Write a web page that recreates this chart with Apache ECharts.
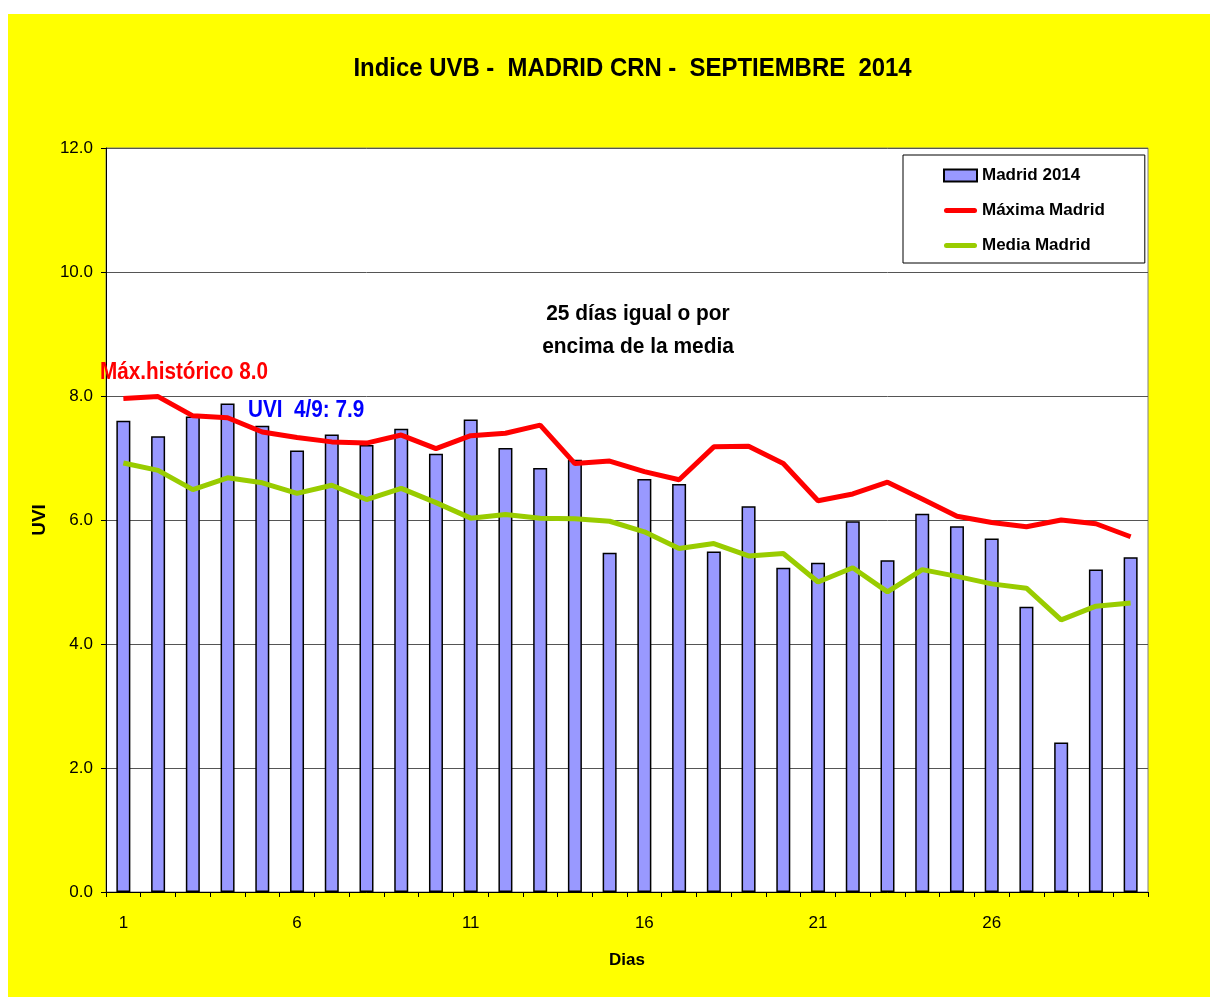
<!DOCTYPE html>
<html>
<head>
<meta charset="utf-8">
<title>Indice UVB - Madrid CRN - Septiembre 2014</title>
<script src="https://cdn.jsdelivr.net/npm/echarts@6/dist/echarts.min.js"></script>
<style>
  html, body { margin: 0; padding: 0; background: #ffffff; }
  #chart {
    position: absolute;
    left: 8px;
    top: 14px;
    width: 1202px;
    height: 983px;
    background: #ffff00;
  }
</style>
</head>
<body>
<div id="chart"></div>
<script>
// dias del mes
const dias = ['1', '2', '3', '4', '5', '6', '7', '8', '9', '10',
  '11', '12', '13', '14', '15', '16', '17', '18', '19', '20',
  '21', '22', '23', '24', '25', '26', '27', '28', '29', '30'];

// UVI diario Madrid 2014
const madrid2014 = [7.60, 7.35, 7.67, 7.88, 7.52, 7.12, 7.38, 7.21, 7.47, 7.07,
  7.62, 7.16, 6.84, 6.97, 5.47, 6.66, 6.58, 5.49, 6.22, 5.23,
  5.31, 5.98, 5.35, 6.10, 5.90, 5.70, 4.60, 2.41, 5.20, 5.40];

// maximos historicos
const maximaMadrid = [7.96, 7.99, 7.68, 7.65, 7.42, 7.33, 7.26, 7.24, 7.37, 7.15,
  7.36, 7.40, 7.53, 6.91, 6.95, 6.78, 6.65, 7.18, 7.19, 6.91,
  6.31, 6.42, 6.61, 6.34, 6.06, 5.96, 5.89, 6.00, 5.94, 5.73];

// medias historicas
const mediaMadrid = [6.92, 6.80, 6.49, 6.68, 6.60, 6.43, 6.56, 6.33, 6.51, 6.28,
  6.03, 6.09, 6.03, 6.02, 5.98, 5.81, 5.54, 5.62, 5.42, 5.46,
  5.00, 5.23, 4.84, 5.20, 5.09, 4.97, 4.90, 4.39, 4.61, 4.66];

const font = 'Liberation Sans, Arial, sans-serif';
// icono de linea gruesa con extremos redondeados
const lineIcon = 'path://M2.5,0 L30.5,0 A2.5,2.5 0 0 1 30.5,5 L2.5,5 A2.5,2.5 0 0 1 2.5,0 Z';

// textos sueltos (el original tiene la letra algo estrecha)
const nota = (text, x, y, color, size, sx, align) => ({
  type: 'text',
  x: x,
  y: y,
  scaleX: sx,
  z: 10,
  style: {
    text: text,
    fill: color,
    font: 'bold ' + size + 'px ' + font,
    align: align,
    verticalAlign: 'middle',
  },
});

const chart = echarts.init(document.getElementById('chart'));

chart.setOption({
  backgroundColor: '#ffff00',
  animation: false,
  legend: {
    orient: 'vertical',
    left: 895,
    top: 141,
    padding: [12, 40, 9, 40],
    backgroundColor: '#ffffff',
    borderColor: '#000',
    borderWidth: 1,
    borderRadius: 0,
    itemWidth: 33,
    itemHeight: 12,
    itemGap: 18,
    textStyle: { fontFamily: font, fontSize: 17, fontWeight: 'bold', color: '#000', lineHeight: 17 },
    data: [
      { name: 'Madrid 2014', icon: 'rect' },
      { name: 'Máxima Madrid', icon: lineIcon, itemStyle: { color: '#ff0000' } },
      { name: 'Media Madrid', icon: lineIcon, itemStyle: { color: '#99cc00' } },
    ],
  },
  grid: {
    left: 98,
    right: 62,
    top: 134,
    bottom: 105,
    show: true,
    backgroundColor: '#ffffff',
    borderColor: '#808080',
    borderWidth: 1,
  },
  xAxis: {
    type: 'category',
    data: dias,
    name: 'Dias',
    nameLocation: 'middle',
    nameGap: 60,
    nameTextStyle: { fontFamily: font, fontSize: 17, fontWeight: 'bold', color: '#000' },
    axisLine: { lineStyle: { color: '#000', width: 1 } },
    axisTick: { show: true, interval: 0, alignWithLabel: false, length: 5, lineStyle: { color: '#000' } },
    axisLabel: { interval: 4, margin: 23, fontFamily: font, fontSize: 17, color: '#000' },
    splitLine: { show: false },
  },
  yAxis: {
    type: 'value',
    min: 0,
    max: 12,
    interval: 2,
    name: 'UVI',
    nameLocation: 'middle',
    nameRotate: 90,
    nameGap: 52,
    nameTextStyle: { fontFamily: font, fontSize: 19, fontWeight: 'bold', color: '#000' },
    axisLine: { show: true, lineStyle: { color: '#000', width: 1 } },
    axisTick: { show: true, length: 5, lineStyle: { color: '#000' } },
    axisLabel: {
      margin: 13,
      fontFamily: font,
      fontSize: 17,
      color: '#000',
      formatter: (v) => v.toFixed(1),
    },
    splitLine: { show: true, lineStyle: { color: '#555', width: 1 } },
  },
  series: [
    {
      name: 'Madrid 2014',
      type: 'bar',
      data: madrid2014,
      barWidth: 14,
      itemStyle: { color: '#9999ff', borderColor: '#000', borderWidth: 1.5 },
      z: 2,
    },
    {
      name: 'Máxima Madrid',
      type: 'line',
      data: maximaMadrid,
      symbol: 'none',
      lineStyle: { color: '#ff0000', width: 5 },
      itemStyle: { color: '#ff0000' },
      z: 3,
    },
    {
      name: 'Media Madrid',
      type: 'line',
      data: mediaMadrid,
      symbol: 'none',
      lineStyle: { color: '#99cc00', width: 5 },
      itemStyle: { color: '#99cc00' },
      z: 3,
    },
  ],
  graphic: [
    nota('Indice UVB -  MADRID CRN -  SEPTIEMBRE  2014', 624.5, 55, '#000', 26, 0.92, 'center'),
    nota('Máx.histórico 8.0', 92, 359, '#ff0000', 23, 0.9, 'left'),
    nota('UVI  4/9: 7.9', 240, 397, '#0000ff', 23, 0.9, 'left'),
    nota('25 días igual o por', 630, 300, '#000', 22, 0.95, 'center'),
    nota('encima de la media', 630, 333, '#000', 22, 0.95, 'center'),
  ],
});
</script>
</body>
</html>
